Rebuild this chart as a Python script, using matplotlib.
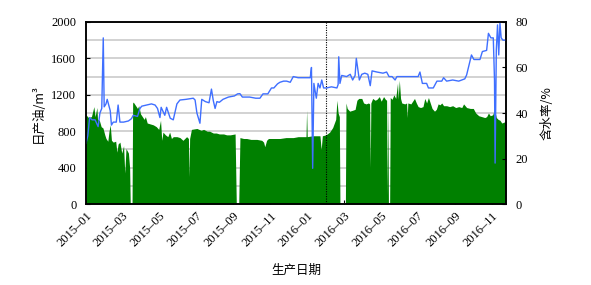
#!/usr/bin/env python
# -*- coding: utf-8 -*-
import matplotlib
matplotlib.use('Agg')
import matplotlib.pyplot as plt
import matplotlib.dates as mdates
import numpy as np
import pandas as pd

start_date = '2015-01-01'
end_date = '2016-11-24'
shut_in_date = '2016-02-01'

# daily oil rate (m3/d), day = days since 2015-01-01
oil_day = [0, 4, 9, 13, 15, 18, 19, 22, 25, 28, 31, 33, 36, 38, 40, 42, 45, 49, 51, 53,
           56, 59, 62, 64, 66, 70, 72, 73, 76, 77, 78, 82, 85, 87, 90, 93, 96, 98, 101, 106,
           111, 116, 120, 123, 125, 127, 131, 135, 138, 141, 144, 150, 155, 160, 166, 169, 170, 171, 174, 183,
           190, 194, 200, 204, 210, 215, 220, 227, 232, 238, 246, 248, 252, 254, 260, 265, 272, 282, 290, 293,
           295, 298, 301, 310, 320, 330, 342, 350, 359, 363, 364, 365, 374, 386, 388, 390, 396, 402, 407, 412,
           414, 416, 418, 419, 428, 429, 431, 435, 440, 444, 447, 450, 455, 458, 462, 466, 468, 469, 470, 473,
           477, 480, 484, 487, 491, 494, 496, 497, 498, 499, 501, 502, 505, 508, 511, 514, 515, 517, 519, 521,
           526, 529, 530, 531, 536, 542, 545, 548, 552, 556, 559, 562, 565, 568, 571, 575, 578, 581, 584, 587,
           590, 595, 600, 605, 610, 615, 620, 623, 628, 634, 639, 643, 648, 653, 658, 661, 664, 667, 671, 674,
           677, 680, 683, 686, 690, 693]
oil_rate = [980, 950, 960, 1070, 960, 1060, 930, 920, 850, 835, 760, 720, 690, 800, 870, 700, 680, 690, 570, 660,
            680, 560, 640, 340, 610, 560, 400, 0, 0, 1110, 1120, 1080, 1050, 1080, 990, 960, 930, 960, 890, 880,
            870, 850, 820, 920, 700, 790, 760, 740, 790, 720, 740, 740, 730, 700, 740, 720, 300, 720, 820, 830,
            810, 820, 800, 800, 780, 780, 770, 770, 760, 760, 770, 0, 0, 730, 720, 720, 710, 710, 700, 680,
            630, 700, 720, 720, 720, 730, 730, 740, 740, 740, 1030, 740, 750, 750, 600, 750, 760, 790, 840, 930,
            1140, 1000, 960, 0, 0, 1110, 1050, 1020, 1030, 1040, 1140, 1160, 1160, 1110, 1100, 1110, 1100, 400, 1110, 1160,
            1140, 1150, 1180, 1130, 1180, 1150, 1140, 100, 1140, 0, 0, 1170, 1150, 1200, 1160, 1330, 1150, 1360, 1160, 1110,
            1100, 1110, 950, 1110, 1100, 1160, 1110, 1070, 1060, 1070, 1160, 1110, 1170, 1110, 1050, 1020, 1040, 1100, 1090, 1110,
            1080, 1080, 1070, 1080, 1060, 1070, 1060, 1100, 1060, 1050, 1050, 1000, 970, 960, 950, 960, 1000, 970, 980, 1040,
            950, 930, 920, 890, 900, 920]

# water cut (%)
wc_day = [0, 3, 6, 10, 15, 20, 23, 26, 28.5, 30, 33, 35, 40, 42, 45, 50, 53, 56, 62, 70,
          75, 78, 85, 89, 92, 100, 108, 114, 118, 122, 124, 130, 133, 139, 144, 150, 155, 165, 177, 180,
          183, 188, 191, 197, 203, 207, 210, 213, 216, 220, 226, 235, 245, 250, 254, 258, 270, 280, 287, 292,
          300, 306, 310, 316, 320, 326, 331, 337, 342, 350, 360, 370, 372, 374, 376, 380, 383, 386, 389, 392,
          397, 405, 414, 416, 417, 419, 422, 430, 436, 440, 444, 446, 451, 455, 460, 465, 469, 472, 480, 490,
          496, 500, 505, 510, 513, 525, 540, 548, 551, 555, 562, 565, 573, 576, 579, 587, 590, 595, 605, 615,
          625, 628, 636, 640, 650, 654, 661, 664, 668, 672, 674, 675, 677, 679, 681, 683, 685, 688, 693]
wc_pct = [26.7, 30, 38, 37, 37, 34, 40, 42, 73, 42.7, 44, 46, 41, 34.7, 36, 36, 43.5, 36, 36, 36.5,
          37.5, 39, 38.5, 42, 43, 43.5, 44, 43.5, 42, 38, 42.5, 39, 42.5, 37.7, 37, 44, 45.7, 46, 46.5, 45.7,
          40, 35.5, 46, 45, 44.5, 50.5, 45.5, 42, 45, 44.7, 46, 47, 47.5, 48.4, 48.5, 47, 47, 46.5, 46.5, 48.4,
          48.4, 51, 51, 52.8, 53.5, 54, 54, 53.5, 56, 55.5, 55.5, 55.5, 60, 15.7, 53, 46.5, 53, 51, 54.5, 51,
          51, 51.5, 51, 52.5, 64.7, 53, 56.5, 56, 57, 54.5, 56.5, 64, 54.5, 57, 57.5, 57, 52, 58.5, 58, 57.5,
          58, 56, 56, 54.5, 56, 56, 56, 56, 58, 53, 53, 51, 51, 52.5, 54, 54, 55.5, 54, 54.5, 54,
          55, 56.7, 65.5, 63.5, 63.5, 67, 67.5, 75, 73, 73, 54.5, 18, 67.7, 78.7, 65.5, 79.5, 73, 72, 72]

oil_ticks = [0, 400, 800, 1200, 1600, 2000]
wc_ticks = [0, 20, 40, 60, 80]

cjk = ['Noto Sans CJK SC', 'DejaVu Sans']
serif = ['Liberation Serif', 'DejaVu Serif']


def to_dates(days):
    """
    convert day offsets into timestamps

    :param days:
    :return:
    """
    return pd.Timestamp(start_date) + pd.to_timedelta(np.asarray(days, dtype=float), unit='D')


def plot_production(out_file):
    """
    oil rate as a filled area on the left axis, water cut as a line on the right axis

    :param out_file:
    :return:
    """
    fig = plt.figure(figsize=(5.91, 2.85), dpi=100)
    ax = fig.add_axes([0.1455, 0.284, 0.7107, 0.639])

    ax.fill_between(to_dates(oil_day), oil_rate, 0, color='#008000', lw=0, zorder=2)
    ax.axvline(pd.Timestamp(shut_in_date), color='black', ls=(0, (1, 1.2)), lw=0.8, zorder=3)

    ax.set_xlim(pd.Timestamp(start_date), pd.Timestamp(end_date))
    ax.set_ylim(0, 2000)
    ax.set_yticks(oil_ticks)
    ax.set_yticks(np.arange(0, 2001, 200), minor=True)
    ax.tick_params(axis='y', which='minor', length=0)
    ax.grid(True, axis='y', which='both', color='#cfcfcf', lw=1.3)
    ax.set_axisbelow(True)

    ax.xaxis.set_major_locator(mdates.MonthLocator(bymonth=[1, 3, 5, 7, 9, 11]))
    ax.xaxis.set_major_formatter(mdates.DateFormatter('%Y\u2013%m'))
    ax.tick_params(axis='both', which='major', direction='in', length=3, width=0.8, labelsize=9, pad=7)
    ax.tick_params(axis='x', pad=4)
    for lbl in ax.get_xticklabels():
        lbl.set_rotation(45)
        lbl.set_ha('right')
        lbl.set_rotation_mode('anchor')
    for lbl in ax.get_xticklabels() + ax.get_yticklabels():
        lbl.set_family(serif)

    ax.set_xlabel('生产日期', family=cjk, fontsize=9)
    ax.xaxis.set_label_coords(0.5, -0.33)
    ax.set_ylabel('日产油/m\u00b3', family=cjk, fontsize=9)
    ax.yaxis.set_label_coords(-0.098, 0.5)

    ax2 = ax.twinx()
    ax2.plot(to_dates(wc_day), wc_pct, color='#3f6fff', lw=1.0)
    ax2.set_ylim(0, 80)
    ax2.set_yticks(wc_ticks)
    ax2.tick_params(axis='y', direction='in', length=3, width=0.8, labelsize=9, pad=7)
    for lbl in ax2.get_yticklabels():
        lbl.set_family(serif)
    ax2.set_ylabel('含水率/%', family=cjk, fontsize=9)
    ax2.yaxis.set_label_coords(1.083, 0.5)

    for a in (ax, ax2):
        for sp in a.spines.values():
            sp.set_linewidth(1.1)
            sp.set_color('black')

    fig.savefig(out_file, dpi=100)


def main():
    plot_production('out.png')


if __name__ == '__main__':
    main()
